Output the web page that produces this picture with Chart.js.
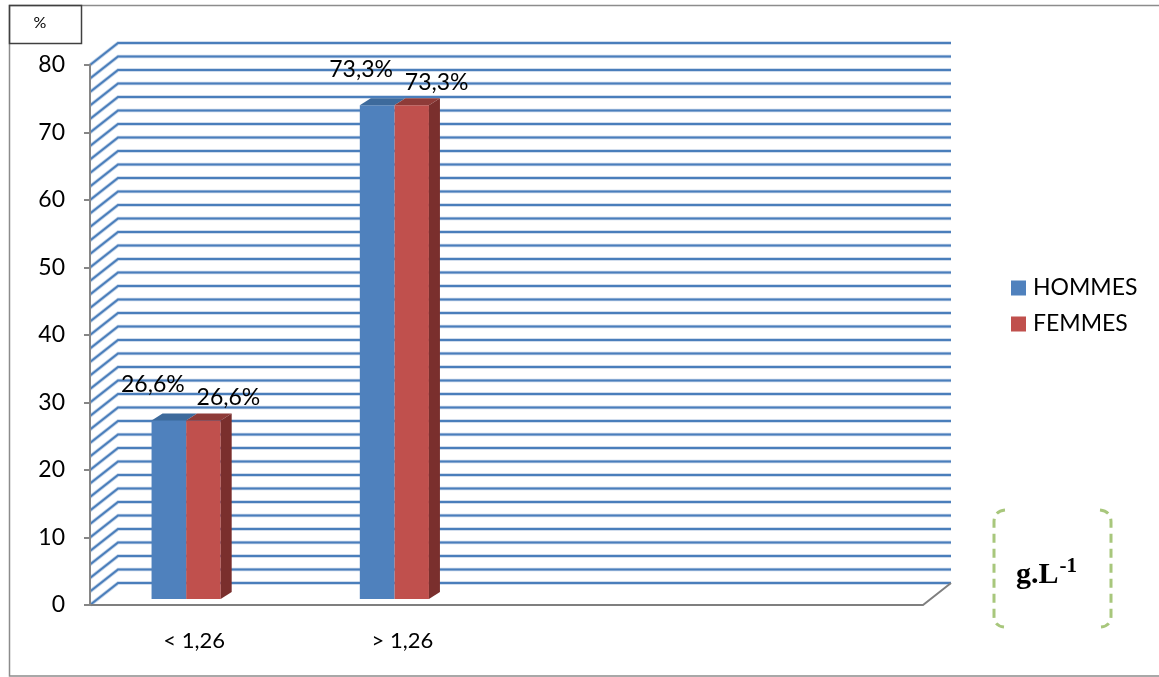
<!DOCTYPE html>
<html><head><meta charset="utf-8">
<script src="https://cdn.jsdelivr.net/npm/chart.js@4.4.0/dist/chart.umd.min.js"></script>
<style>html,body{margin:0;padding:0;background:#fff}canvas{display:block}</style>
</head><body><canvas id="c" width="1159" height="677"></canvas>
<script>
// ---- data ----
const categories = ["< 1,26", "> 1,26", "", ""];
const hommes = [26.6, 73.3, null, null];
const femmes = [26.6, 73.3, null, null];
const seriesNames = ["HOMMES", "FEMMES"];
const yMin = 0, yMax = 80, yStep = 10, gridStep = 2;
const yAxisTitle = "%";
const xUnitMain = "g.L", xUnitSup = "-1";

// ---- style ----
const FONT = "Lato, 'Noto Sans', sans-serif";
const COLORS = [
  {front: "#4F81BD", top: "#3D6A9C", side: "#34598A"},
  {front: "#C0504D", top: "#8E3B38", side: "#7A2F2D"}
];
const DEPTH = {dx: 28, dy: -22};
const BAR_SHIFT = {dx: -8, dy: -5};
const BAR_3D = {dx: 11, dy: -7};
const LABEL_OFF = [{dx: -24, dy: -41}, {dx: 17, dy: -28}];
const fmt = v => v.toFixed(1).replace('.', ',') + '%';

const scene = {
  id: 'scene',
  beforeDatasetsDraw(chart) {
    const {ctx, chartArea: a, scales: {y}} = chart;
    ctx.save();
    ctx.lineCap = 'butt';
    for (let v = y.min; v <= y.max + 1e-9; v += gridStep) {
      const py = y.getPixelForValue(v);
      ctx.strokeStyle = 'rgba(79,129,189,0.35)'; ctx.lineWidth = 3.5;
      ctx.beginPath();
      ctx.moveTo(a.left, py); ctx.lineTo(a.left + DEPTH.dx, py + DEPTH.dy); ctx.lineTo(a.right + DEPTH.dx, py + DEPTH.dy);
      ctx.stroke();
      ctx.strokeStyle = '#4A7EBB'; ctx.lineWidth = 2;
      ctx.beginPath();
      ctx.moveTo(a.left, py); ctx.lineTo(a.left + DEPTH.dx, py + DEPTH.dy); ctx.lineTo(a.right + DEPTH.dx, py + DEPTH.dy);
      ctx.stroke();
    }
    ctx.strokeStyle = '#7F7F7F'; ctx.lineWidth = 2;
    ctx.beginPath();
    ctx.moveTo(a.left, a.bottom); ctx.lineTo(a.right, a.bottom); ctx.lineTo(a.right + DEPTH.dx, a.bottom + DEPTH.dy);
    ctx.stroke();
    ctx.strokeStyle = '#868686'; ctx.lineWidth = 2;
    ctx.beginPath(); ctx.moveTo(a.left, a.top - 1); ctx.lineTo(a.left, a.bottom + 1); ctx.stroke();
    ctx.restore();
    ctx.save();
    ctx.translate(BAR_SHIFT.dx, BAR_SHIFT.dy);
  },
  afterDatasetsDraw(chart) {
    const {ctx} = chart;
    const n = chart.data.datasets.length;
    chart.data.datasets.forEach((ds, di) => {
      const meta = chart.getDatasetMeta(di);
      meta.data.forEach((el, i) => {
        if (ds.data[i] == null) return;
        const l = el.x - el.width / 2, r = el.x + el.width / 2, t = el.y, b = el.base;
        ctx.fillStyle = COLORS[di].top;
        ctx.beginPath();
        ctx.moveTo(l, t); ctx.lineTo(r, t); ctx.lineTo(r + BAR_3D.dx, t + BAR_3D.dy); ctx.lineTo(l + BAR_3D.dx, t + BAR_3D.dy);
        ctx.closePath(); ctx.fill();
        if (di === n - 1) {
          ctx.fillStyle = COLORS[di].side;
          ctx.beginPath();
          ctx.moveTo(r, t); ctx.lineTo(r + BAR_3D.dx, t + BAR_3D.dy); ctx.lineTo(r + BAR_3D.dx, b + BAR_3D.dy); ctx.lineTo(r, b);
          ctx.closePath(); ctx.fill();
        }
      });
    });
    ctx.restore();
    ctx.save();
    ctx.font = "23px " + FONT; ctx.fillStyle = '#000'; ctx.textAlign = 'center'; ctx.textBaseline = 'middle';
    chart.data.datasets.forEach((ds, di) => {
      const meta = chart.getDatasetMeta(di);
      meta.data.forEach((el, i) => {
        if (ds.data[i] == null) return;
        ctx.fillText(fmt(ds.data[i]), el.x + LABEL_OFF[di].dx, el.y + LABEL_OFF[di].dy);
      });
    });
    ctx.restore();
  },
  afterDraw(chart) {
    const {ctx} = chart;
    ctx.save();
    ctx.strokeStyle = '#8C8C8C'; ctx.lineWidth = 1.5;
    ctx.beginPath(); ctx.moveTo(1160, 5.5); ctx.lineTo(9.5, 5.5); ctx.lineTo(9.5, 676); ctx.lineTo(1160, 676); ctx.stroke();
    ctx.strokeStyle = '#404040'; ctx.lineWidth = 1.5;
    ctx.strokeRect(9.5, 5.5, 72, 38);
    ctx.font = "16px " + FONT; ctx.fillStyle = '#000'; ctx.textAlign = 'center'; ctx.textBaseline = 'middle';
    ctx.fillText(yAxisTitle, 40, 23);
    ctx.font = "23px " + FONT; ctx.textAlign = 'left';
    seriesNames.forEach((nm, i) => {
      const cy = 288 + i * 36;
      ctx.fillStyle = COLORS[i].front;
      ctx.fillRect(1011, cy - 7.5, 15, 15);
      ctx.fillStyle = '#000';
      ctx.fillText(nm, 1033, cy);
    });
    ctx.strokeStyle = '#A8C77C'; ctx.lineWidth = 3; ctx.setLineDash([9, 6]);
    ctx.beginPath();
    ctx.moveTo(1005, 510); ctx.quadraticCurveTo(994, 511, 994, 522); ctx.lineTo(994, 616); ctx.quadraticCurveTo(994, 626, 1004, 627);
    ctx.stroke();
    ctx.beginPath();
    ctx.moveTo(1100, 510); ctx.quadraticCurveTo(1111, 511, 1111, 522); ctx.lineTo(1111, 616); ctx.quadraticCurveTo(1111, 626, 1101, 627);
    ctx.stroke();
    ctx.setLineDash([]);
    ctx.fillStyle = '#000'; ctx.textBaseline = 'alphabetic'; ctx.textAlign = 'left';
    ctx.font = "bold 30px 'Liberation Serif', 'DejaVu Serif', serif";
    ctx.fillText(xUnitMain, 1016, 583);
    const w = ctx.measureText(xUnitMain).width;
    ctx.font = "bold 21px 'Liberation Serif', 'DejaVu Serif', serif";
    ctx.fillText(xUnitSup, 1016 + w + 1, 572);
    ctx.restore();
  }
};

new Chart(document.getElementById('c'), {
  type: 'bar',
  data: {
    labels: categories,
    datasets: [
      {label: seriesNames[0], data: hommes, backgroundColor: COLORS[0].front, borderWidth: 0},
      {label: seriesNames[1], data: femmes, backgroundColor: COLORS[1].front, borderWidth: 0}
    ]
  },
  options: {
    responsive: false, animation: false, devicePixelRatio: 1,
    layout: {padding: {left: 0, top: 65, right: 236, bottom: 0}},
    datasets: {bar: {categoryPercentage: 0.332, barPercentage: 1}},
    plugins: {legend: {display: false}, tooltip: {enabled: false}},
    scales: {
      x: {
        grid: {display: false, drawTicks: false}, border: {display: false},
        ticks: {color: '#000', font: {family: FONT, size: 22}, padding: 23, maxRotation: 0, autoSkip: false},
        afterFit(s) { s.height = 72; }
      },
      y: {
        min: yMin, max: yMax,
        ticks: {stepSize: yStep, color: '#000', font: {family: FONT, size: 23}, padding: 19},
        grid: {drawOnChartArea: false, tickLength: 6, color: '#868686', lineWidth: 2},
        border: {display: true, color: '#868686', width: 2},
        afterFit(s) { s.width = 90; }
      }
    }
  },
  plugins: [scene]
});
</script>
</body></html>
